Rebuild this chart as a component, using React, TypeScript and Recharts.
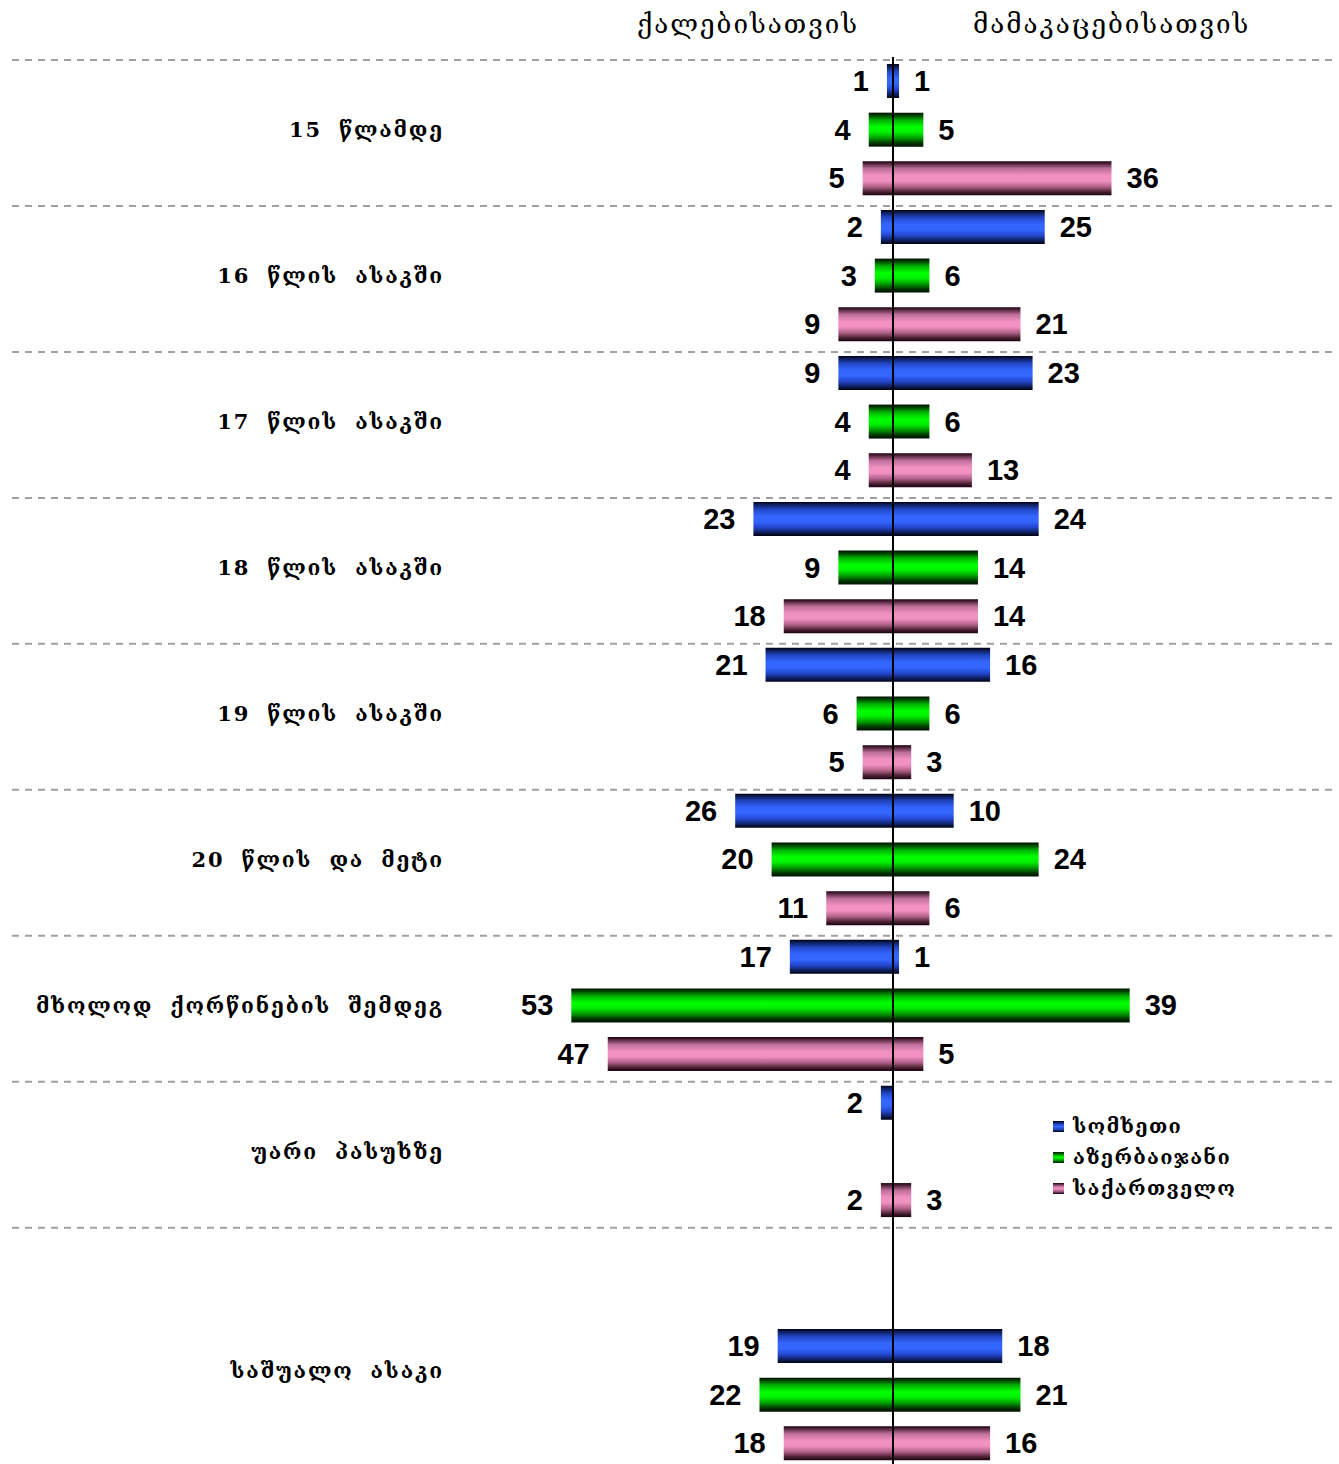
import { BarChart, Bar, XAxis, YAxis, Cell, LabelList, ReferenceLine } from "recharts";

const groups = [
  "15 წლამდე",
  "16 წლის ასაკში",
  "17 წლის ასაკში",
  "18 წლის ასაკში",
  "19 წლის ასაკში",
  "20 წლის და მეტი",
  "მხოლოდ ქორწინების შემდეგ",
  "უარი პასუხზე",
  "საშუალო ასაკი",
];
const countries = ["სომხეთი", "აზერბაიჯანი", "საქართველო"];

// women (left) / men (right)
const armeniaF = [1, 2, 9, 23, 21, 26, 17, 2, 19];
const armeniaM = [1, 25, 23, 24, 16, 10, 1, null, 18];
const azerbaijanF = [4, 3, 4, 9, 6, 20, 53, null, 22];
const azerbaijanM = [5, 6, 6, 14, 6, 24, 39, null, 21];
const georgiaF = [5, 9, 4, 18, 5, 11, 47, 2, 18];
const georgiaM = [36, 21, 13, 14, 3, 6, 5, 3, 16];

const seriesF = [armeniaF, azerbaijanF, georgiaF];
const seriesM = [armeniaM, azerbaijanM, georgiaM];

const gradients = [
  { id: "g0", stops: ["#000010", "#0d1f5c", "#2246c4", "#3366ff", "#3366ff", "#2446cc", "#0d1f5c", "#000010"] },
  { id: "g1", stops: ["#001200", "#004000", "#00b000", "#00ff00", "#00f000", "#009900", "#003300", "#001000"] },
  { id: "g2", stops: ["#1a0010", "#5a2a44", "#c0709a", "#f290c2", "#f090c0", "#b06088", "#4a2030", "#1a0010"] },
];
const stopAt = [0, 0.08, 0.22, 0.42, 0.58, 0.75, 0.9, 1];

type Row = { key: string; g: number; c: number; f: number | null; m: number | null };
const rows: Row[] = [];
groups.forEach((_, g) => {
  if (g === groups.length - 1) {
    rows.push({ key: "sp1", g, c: -1, f: null, m: null });
    rows.push({ key: "sp2", g, c: -1, f: null, m: null });
  }
  for (let c = 0; c < 3; c++) {
    const f = seriesF[c][g];
    const m = seriesM[c][g];
    rows.push({ key: `${g}-${c}`, g, c, f: f == null ? null : -f, m });
  }
});
const rowByKey: Record<string, Row> = {};
rows.forEach((r) => (rowByKey[r.key] = r));

const W = 1339;
const H = 1470;
const TOP = 57;
const BOTTOM = 2;
const ROW = (H - TOP - BOTTOM) / rows.length;
const geoFont = "'DejaVu Serif', serif";
const numFont = "'Liberation Sans', Arial, sans-serif";

const GroupTick = (props: any) => {
  const { x, y, payload } = props;
  const r = rowByKey[payload.value];
  if (!r) return null;
  const last = r.g === groups.length - 1;
  const out: any[] = [];
  const firstRow = last ? r.key === "sp1" : r.c === 0;
  if (firstRow) {
    const ly = y - ROW / 2 + 3;
    out.push(
      <line key="sep" x1={12} x2={1335} y1={ly} y2={ly} stroke="#a0a0a0" strokeWidth={2} strokeDasharray="7 6" />
    );
  }
  const labelHere = last ? r.c === 0 : r.c === 1;
  if (labelHere) {
    out.push(
      <text
        key="lab"
        x={x - 4}
        y={(last ? y + ROW / 2 : y) + 7}
        textAnchor="end"
        fontFamily={geoFont}
        fontSize={21}
        fontWeight="bold"
        letterSpacing={1.8}
        wordSpacing={8}
        fill="#000"
      >
        {groups[r.g]}
      </text>
    );
  }
  return <g>{out}</g>;
};

const LeftLabel = (props: any) => {
  const { x, y, width, height, value } = props;
  if (value == null) return null;
  const edge = Math.min(x, x + width);
  return (
    <text x={edge - 18} y={y + height / 2 + 10} textAnchor="end" fontFamily={numFont} fontWeight="bold" fontSize={29} fill="#000">
      {Math.abs(value)}
    </text>
  );
};

const RightLabel = (props: any) => {
  const { x, y, width, height, value } = props;
  if (value == null || value === 0) return null;
  const edge = Math.max(x, x + width);
  return (
    <text x={edge + 15} y={y + height / 2 + 10} textAnchor="start" fontFamily={numFont} fontWeight="bold" fontSize={29} fill="#000">
      {value}
    </text>
  );
};

const swatch = [
  "linear-gradient(#000010, #2246c4 30%, #3366ff 50%, #2246c4 75%, #000010)",
  "linear-gradient(#001200, #00b000 30%, #00ff00 50%, #009900 75%, #001000)",
  "linear-gradient(#1a0010, #c0709a 30%, #f290c2 50%, #b06088 75%, #1a0010)",
];

export default function App() {
  return (
    <div style={{ position: "absolute", left: 0, top: 0, width: W, height: 1464, overflow: "hidden", background: "#fff" }}>
      <div style={{ position: "absolute", left: 0, top: 0 }}>
        <BarChart
          width={W}
          height={H}
          data={rows}
          layout="vertical"
          stackOffset="sign"
          margin={{ top: TOP, right: 9, left: 0, bottom: BOTTOM }}
          barCategoryGap={0}
        >
          <defs>
            {gradients.map((g) => (
              <linearGradient key={g.id} id={g.id} x1="0" y1="0" x2="0" y2="1">
                {g.stops.map((s, i) => (
                  <stop key={i} offset={stopAt[i]} stopColor={s} />
                ))}
              </linearGradient>
            ))}
          </defs>
          <XAxis type="number" domain={[-72, 72]} hide />
          <YAxis
            type="category"
            dataKey="key"
            width={456}
            tick={<GroupTick />}
            tickLine={false}
            axisLine={false}
            interval={0}
          />
          <Bar dataKey="f" stackId="a" barSize={34} isAnimationActive={false}>
            {rows.map((r) => (
              <Cell key={r.key} fill={`url(#g${Math.max(r.c, 0)})`} />
            ))}
            <LabelList dataKey="f" content={<LeftLabel />} />
          </Bar>
          <Bar dataKey="m" stackId="a" barSize={34} isAnimationActive={false}>
            {rows.map((r) => (
              <Cell key={r.key} fill={`url(#g${Math.max(r.c, 0)})`} />
            ))}
            <LabelList dataKey="m" content={<RightLabel />} />
          </Bar>
          <ReferenceLine x={0} stroke="#000" strokeWidth={2} />
        </BarChart>
      </div>
      <div
        style={{
          position: "absolute",
          left: 1053,
          top: 1111,
          fontFamily: geoFont,
          fontSize: 20,
          fontWeight: "bold",
          letterSpacing: 1.3,
          lineHeight: "31px",
        }}
      >
        {countries.map((name, i) => (
          <div key={name} style={{ display: "flex", alignItems: "center" }}>
            <span style={{ display: "inline-block", width: 11, height: 11, background: swatch[i], marginRight: 9 }} />
            <span>{name}</span>
          </div>
        ))}
      </div>
      <div style={{ position: "absolute", left: 637, top: 9, fontFamily: geoFont, fontSize: 26, letterSpacing: 2 }}>
        ქალებისათვის
      </div>
      <div style={{ position: "absolute", left: 973, top: 9, fontFamily: geoFont, fontSize: 26, letterSpacing: 2 }}>
        მამაკაცებისათვის
      </div>
    </div>
  );
}
